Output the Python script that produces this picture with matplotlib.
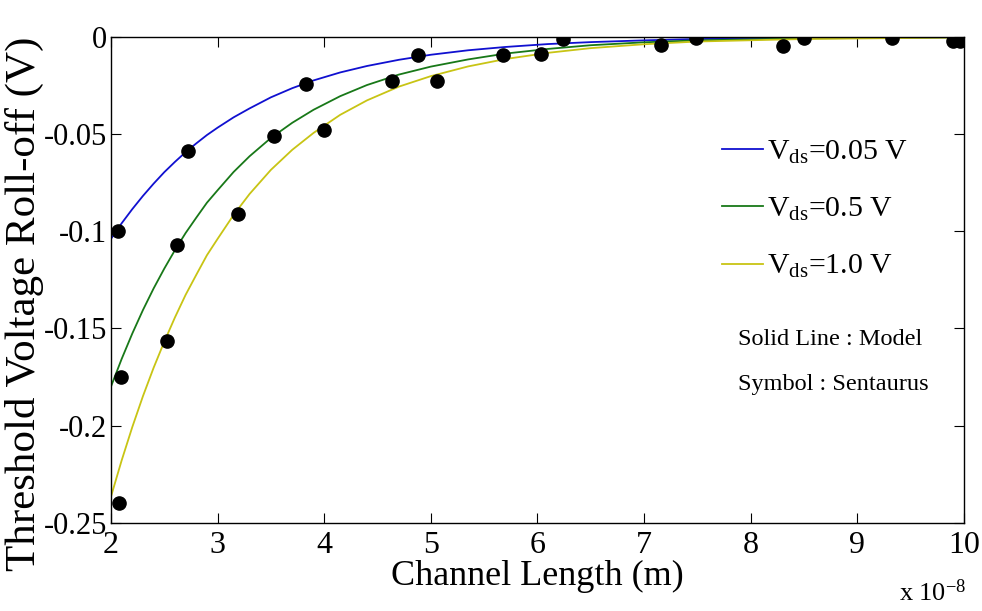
import numpy as np
import matplotlib
matplotlib.use('Agg')
import matplotlib.pyplot as plt

plt.rcParams['font.family'] = ['Liberation Serif', 'DejaVu Serif']
plt.rcParams['mathtext.fontset'] = 'custom'
plt.rcParams['mathtext.rm'] = 'Liberation Serif'
plt.rcParams['mathtext.it'] = 'Liberation Serif'

# Model curves, channel length in units of 1e-8 m
L_model = [2.0, 2.1, 2.2, 2.3, 2.4, 2.5, 2.6, 2.7, 2.8, 2.9, 3.0, 3.15, 3.3, 3.5, 3.7,
           3.9, 4.15, 4.4, 4.7, 5.0, 5.35, 5.7, 6.1, 6.5, 7.0, 7.5, 8.5, 10.0]
vt_005 = [-0.104, -0.0960, -0.0887, -0.0819, -0.0756, -0.0697, -0.0644, -0.0594, -0.0549,
          -0.0506, -0.0468, -0.0415, -0.0369, -0.0312, -0.0265, -0.0225, -0.0184, -0.0151,
          -0.0119, -0.0093, -0.0070, -0.0053, -0.0038, -0.0028, -0.0019, -0.0012, -0.0006,
          -0.0002]
vt_05 = [-0.180, -0.1658, -0.1527, -0.1406, -0.1295, -0.1193, -0.1098, -0.1010, -0.0931,
         -0.0854, -0.0790, -0.0696, -0.0615, -0.0521, -0.0443, -0.0376, -0.0306, -0.0249,
         -0.0195, -0.0154, -0.0117, -0.0087, -0.0063, -0.0044, -0.0029, -0.0019, -0.0009,
         -0.0003]
vt_10 = [-0.2366, -0.2180, -0.2008, -0.1849, -0.1703, -0.1569, -0.1444, -0.1328, -0.1225,
         -0.1124, -0.1040, -0.0917, -0.0809, -0.0685, -0.0582, -0.0495, -0.0402, -0.0328,
         -0.0257, -0.0203, -0.0153, -0.0115, -0.0083, -0.0059, -0.0039, -0.0025, -0.0012,
         -0.0004]

# Sentaurus simulation points
L_sim_005 = [2.07, 2.72, 3.83, 4.88, 6.24, 7.49, 9.32]
vt_sim_005 = [-0.100, -0.0586, -0.0243, -0.0096, -0.0012, -0.0008, -0.0008]
L_sim_05 = [2.09, 2.62, 3.53, 4.64, 5.68, 7.16, 8.50, 9.96]
vt_sim_05 = [-0.1749, -0.107, -0.0512, -0.0230, -0.0092, -0.0042, -0.0008, -0.0022]
L_sim_10 = [2.08, 2.53, 3.19, 4.00, 5.06, 6.03, 8.30, 9.90]
vt_sim_10 = [-0.240, -0.1565, -0.0912, -0.0482, -0.0230, -0.0087, -0.0048, -0.0022]

x_ticks = [2, 3, 4, 5, 6, 7, 8, 9, 10]
y_ticks = [0, -0.05, -0.1, -0.15, -0.2, -0.25]
y_tick_labels = ['0', '-0.05', '-0.1', '-0.15', '-0.2', '-0.25']

fig = plt.figure(figsize=(9.82, 6.11), dpi=100)
ax = fig.add_axes([0.113, 0.1445, 0.8687, 0.7955])

ax.plot(L_model, vt_005, color='#1010d0', lw=1.3, label=r'V$_{\mathrm{ds}}$=0.05 V')
ax.plot(L_model, vt_05, color='#187818', lw=1.3, label=r'V$_{\mathrm{ds}}$=0.5 V')
ax.plot(L_model, vt_10, color='#c8c414', lw=1.3, label=r'V$_{\mathrm{ds}}$=1.0 V')

for xs, ys in [(L_sim_005, vt_sim_005), (L_sim_05, vt_sim_05), (L_sim_10, vt_sim_10)]:
    ax.plot(xs, ys, 'o', color='black', ms=9.5, zorder=5)

ax.set_xlim(2, 10)
ax.set_ylim(-0.25, 0)
ax.set_xticks(x_ticks)
ax.set_xticklabels([str(t) for t in x_ticks])
ax.set_yticks(y_ticks)
ax.set_yticklabels(y_tick_labels)
ax.tick_params(direction='in', length=7, width=0.8, top=True, right=True,
               labelsize=23, pad=6)
ax.tick_params(axis='y', labelsize=22, pad=3)
for s in ax.spines.values():
    s.set_linewidth(1.0)

ax.set_xlabel('Channel Length (m)', fontsize=26, labelpad=0)
ax.set_ylabel('Threshold Voltage Roll-off (V)', fontsize=31)
ax.yaxis.set_label_coords(-0.079, 0.45)

leg = ax.legend(loc='upper left', bbox_to_anchor=(0.685, 0.845), frameon=False,
                fontsize=21.5, handlelength=1.35, handletextpad=0.15, labelspacing=1.0)

ax.text(0.735, 0.376, 'Solid Line : Model', transform=ax.transAxes, fontsize=17.5, va='center')
ax.text(0.735, 0.285, 'Symbol : Sentaurus', transform=ax.transAxes, fontsize=17.5, va='center')

fig.text(0.915, 0.017, r'x 10$^{-8}$', fontsize=19)

plt.savefig('out.png', dpi=100)
